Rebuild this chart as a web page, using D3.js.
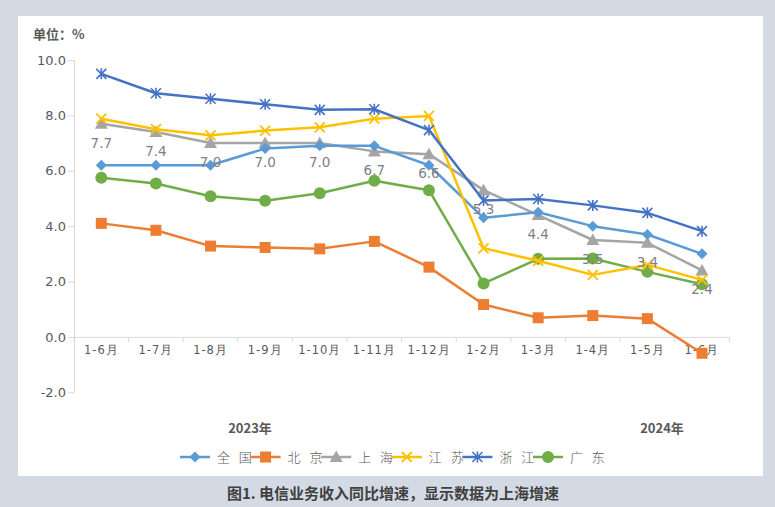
<!DOCTYPE html>
<html><head><meta charset="utf-8">
<script src="https://cdn.jsdelivr.net/npm/d3@7"></script>
<style>
html,body{margin:0;padding:0;background:#d3dae4;}
svg{display:block;}
</style></head>
<body>
<svg id="chart" width="775" height="507"></svg>
<script>
const categories = ["1-6月","1-7月","1-8月","1-9月","1-10月","1-11月","1-12月","1-2月","1-3月","1-4月","1-5月","1-6月"];
const quanguo  = [6.2, 6.2, 6.2, 6.8, 6.9, 6.9, 6.2, 4.3, 4.5, 4.0, 3.7, 3.0];
const beijing  = [4.1, 3.85, 3.28, 3.23, 3.18, 3.45, 2.52, 1.17, 0.69, 0.77, 0.66, -0.59];
const shanghai = [7.7, 7.4, 7.0, 7.0, 7.0, 6.7, 6.6, 5.3, 4.4, 3.5, 3.4, 2.4];
const jiangsu  = [7.88, 7.5, 7.28, 7.45, 7.57, 7.88, 7.98, 3.2, 2.75, 2.24, 2.6, 2.06];
const zhejiang = [9.5, 8.8, 8.6, 8.4, 8.2, 8.22, 7.47, 4.93, 4.98, 4.75, 4.48, 3.82];
const guangdong= [5.75, 5.54, 5.08, 4.92, 5.19, 5.64, 5.3, 1.93, 2.82, 2.83, 2.35, 1.9];
const yTicks = [-2, 0, 2, 4, 6, 8, 10];
const seriesNames = ["全 国","北 京","上 海","江 苏","浙 江","广 东"];
const yearLabels = ["2023年","2024年"];
const caption = "图1. 电信业务收入同比增速，显示数据为上海增速";
const unitLabel = "单位：%";

const seriesValues = [quanguo, beijing, shanghai, jiangsu, zhejiang, guangdong];
const colors = ["#5B9BD5","#ED7D31","#A5A5A5","#FFC000","#4472C4","#70AD47"];
const markers = ["diamond","square","triangle","x","asterisk","circle"];
const fmt = v => d3.format(".1f")(v).replace("−","-");

const svg = d3.select("#chart");
svg.append("rect").attr("x",18).attr("y",16).attr("width",745).attr("height",460).attr("fill","#fff");

const x = d3.scaleBand().domain(d3.range(categories.length)).range([74, 729.3]);
const y = d3.scaleLinear().domain([-2, 10]).range([392.3, 60]);

// y axis
const yAxis = d3.axisLeft(y).tickValues(yTicks).tickFormat(fmt).tickSize(6).tickSizeOuter(0);
const gy = svg.append("g").attr("transform","translate(74,0)").call(yAxis);
gy.select(".domain").attr("stroke","#d9d9d9");
gy.selectAll(".tick line").attr("stroke","#d9d9d9");
gy.selectAll("text").attr("fill","#595959").style("font-family","DejaVu Sans, sans-serif").style("font-size","13px").attr("x",-8);

// x axis at y=0
const xAxis = d3.axisBottom(x).tickFormat(i => categories[i]).tickSize(0).tickSizeOuter(0);
const gx = svg.append("g").attr("transform",`translate(0,${y(0)})`).call(xAxis);
gx.select(".domain").attr("stroke","#d9d9d9");
gx.selectAll("text").attr("fill","#595959").style("font-family","DejaVu Sans, sans-serif").style("font-size","11.5px").style("letter-spacing","1px").attr("dy","1.25em");
const seps = d3.range(categories.length + 1).map(i => 74 + i * x.step());
svg.append("g").selectAll("line").data(seps).join("line")
  .attr("x1", d => d).attr("x2", d => d)
  .attr("y1", y(0)).attr("y2", y(0) + 5)
  .attr("stroke","#d9d9d9");

const cx = i => x(i) + x.bandwidth() / 2;

function drawMarker(g, type, color, px, py) {
  if (type === "diamond") {
    const s = 5.5;
    g.append("path").attr("d",`M${px},${py-s}L${px+s},${py}L${px},${py+s}L${px-s},${py}Z`).attr("fill",color);
  } else if (type === "square") {
    g.append("rect").attr("x",px-5.5).attr("y",py-5.5).attr("width",11).attr("height",11).attr("fill",color);
  } else if (type === "triangle") {
    g.append("path").attr("d",`M${px},${py-6.5}L${px+6.5},${py+5}L${px-6.5},${py+5}Z`).attr("fill",color);
  } else if (type === "x") {
    const s = 5;
    g.append("path").attr("d",`M${px-s},${py-s}L${px+s},${py+s}M${px-s},${py+s}L${px+s},${py-s}`).attr("stroke",color).attr("stroke-width",1.8);
  } else if (type === "asterisk") {
    const s = 5;
    g.append("path").attr("d",`M${px-s},${py-s}L${px+s},${py+s}M${px-s},${py+s}L${px+s},${py-s}M${px},${py-s-0.5}L${px},${py+s+0.5}`).attr("stroke",color).attr("stroke-width",1.6);
  } else if (type === "circle") {
    g.append("circle").attr("cx",px).attr("cy",py).attr("r",6).attr("fill",color);
  }
}

const line = d3.line().x((d,i) => cx(i)).y(d => y(d));
const order = [2,0,5,1,3,4];
order.forEach(si => {
  const g = svg.append("g");
  g.append("path").datum(seriesValues[si]).attr("d", line).attr("fill","none")
    .attr("stroke", colors[si]).attr("stroke-width", 2.5).attr("stroke-linejoin","round");
  seriesValues[si].forEach((v,i) => drawMarker(g, markers[si], colors[si], cx(i), y(v)));
});

// data labels for 上海
svg.append("g").selectAll("text").data(shanghai).join("text")
  .attr("x", (d,i) => cx(i)).attr("y", d => y(d) + 24)
  .attr("text-anchor","middle").attr("fill","#7f7f7f")
  .style("font-family","DejaVu Sans, sans-serif").style("font-size","13.5px")
  .text(d => fmt(d));

svg.append("text").attr("x",33).attr("y",39).text(unitLabel)
  .attr("fill","#595959").style("font-family","Noto Sans CJK SC, sans-serif").style("font-size","13px").style("font-weight","bold");

[[250, yearLabels[0]],[662, yearLabels[1]]].forEach(([px, t]) => {
  svg.append("text").attr("x",px).attr("y",433).attr("text-anchor","middle").text(t)
    .attr("fill","#595959").style("font-family","Noto Sans CJK SC, sans-serif").style("font-size","13px").style("font-weight","bold");
});

const lg = svg.append("g");
seriesNames.forEach((name, si) => {
  const lx = 180 + si * 70.6, ly = 457;
  lg.append("line").attr("x1",lx).attr("x2",lx+30).attr("y1",ly).attr("y2",ly).attr("stroke",colors[si]).attr("stroke-width",2.5);
  drawMarker(lg, markers[si], colors[si], lx+15, ly);
  lg.append("text").attr("x",lx+37).attr("y",ly+5).text(name)
    .attr("fill","#595959").style("font-family","Noto Sans CJK SC, sans-serif").style("font-size","13px").style("font-weight","300")
    .style("letter-spacing","3px").style("white-space","pre");
});

svg.append("text").attr("x",393).attr("y",499).attr("text-anchor","middle").text(caption)
  .attr("fill","#404040").style("font-family","Noto Sans CJK SC, sans-serif").style("font-size","15px").style("font-weight","bold");
</script>
</body></html>
